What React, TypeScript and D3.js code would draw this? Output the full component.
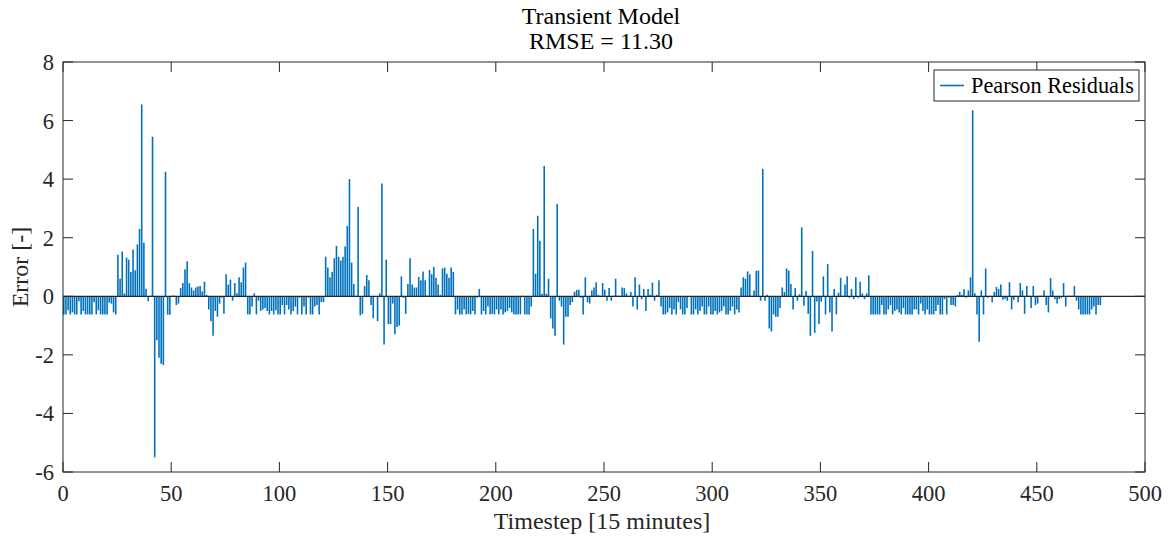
import React from 'react';
import * as d3 from 'd3';

// Pearson residuals, timestep 0..479
const residA = [
  -0.62, -0.62, -0.48, -0.62, -0.55, -0.62, -0.62, -0.17, -0.62, -0.5,
  -0.62, -0.62, -0.62, -0.62, -0.2, -0.62, -0.48, -0.62, -0.62, -0.62,
  -0.62, -0.22, -0.25, -0.55, -0.62,
  1.42, 0.6, 1.53, 0.1, 1.32, 1.25, 0.83, 1.6, 0.89, 1.77, 2.3, 6.55, 1.83, 0.26, -0.17,
  0.02, 5.45, -5.5, -1.5, -2.1, -2.3, -2.35, 4.25,
];
const residB = [
  -0.63, -0.63, 0.02, 0.03, -0.3, -0.25, 0.28, 0.45, 0.92, 1.2,
  0.45, 0.3, 0.2, 0.3, 0.33, 0.35, 0.17, 0.5, 0.05, -0.45,
  -0.85, -1.35, -0.5, -0.7, -0.25, -0.05, -0.6, 0.75, 0.4, 0.57,
  -0.15, 0.45, 0.1, 0.65, 0.48,
  0.98, 1.15, -0.62, -0.62, -0.35, 0.1, -0.62, -0.15, -0.5, -0.45,
  -0.4, -0.5, -0.62, -0.5, -0.62, -0.48, -0.62, -0.62, -0.3, -0.62,
  -0.3, -0.45, -0.62, -0.5, -0.35, -0.62, -0.05, -0.62, -0.35, -0.62,
  -0.05, -0.62, -0.62, -0.35, -0.3, -0.62, -0.2, -0.2, 1.35, 0.98, 0.65,
];
const residC = [
  0.83, 1.3, 1.72, 1.35, 1.22, 1.35, 1.7, 2.4, 4.0, 1.15,
  0.42, 0.02, 3.05, -0.65, -0.6, 0.35, 0.73, 0.55, -0.3, -0.75,
  -0.02, -0.85, 0.1, 3.85, -1.65, 1.25, -0.95, -0.95, -0.25, -1.3,
  -1.05, -1.0, 0.68, -0.05, -0.6, 0.42, 1.3, 0.4, 0.3, 0.3, 0.66, 0.55,
  0.85, 0.55, 0.03, 0.9, 0.75, 1.0, 0.63, 0.4, 0.05, 0.95,
  0.98, 0.77, 0.63, 0.98, 0.83, -0.62, -0.45, -0.62, -0.62, -0.45,
  -0.62, -0.6, -0.62, -0.5, -0.62, -0.05, 0.25, -0.62, -0.5, -0.62,
  -0.35, -0.62, -0.6, -0.62, -0.45, -0.62, -0.45, -0.62, -0.55, -0.5, -0.4,
];
const residD = [
  -0.55, -0.62, -0.62, -0.62, -0.62, 0.02, -0.62, -0.62, -0.62, -0.35,
  2.3, 0.77, 2.75, 1.9, 0.09, 4.45, 0.09, 0.6, -0.76, -1.1,
  -1.35, 3.15, -0.15, -0.35, -1.65, -0.7, -0.7, -0.3, -0.2, 0.15,
  0.22, 0.22, -0.05, -0.62, 0.65, -0.2, -0.25, 0.2, 0.3, 0.48, 0.05,
  0.02, 0.45, 0.22, -0.15, 0.28, -0.15, 0.02, 0.6, 0.02, 0.02,
  0.3, 0.28, 0.1, 0.02, 0.15, -0.35, 0.65, -0.45, 0.4, -0.1,
  0.25, -0.5, 0.25, 0.05, 0.47, -0.15, 0.05, 0.55, -0.35, -0.62,
  -0.62, -0.55, -0.4, -0.62, -0.45, -0.62, -0.2, -0.45, -0.62, -0.62, -0.4, 0.0,
];
const residE = [
  -0.62, -0.62, -0.45, -0.62, -0.5, -0.35, -0.62, -0.62, -0.35, -0.62,
  -0.62, -0.5, -0.62, -0.55, -0.5, -0.35, -0.62, -0.62, -0.5, -0.35,
  -0.62, -0.45, -0.55, 0.3, 0.65, 0.6, 0.85, 0.75, 0.02, 0.2,
  0.87, 0.88, -0.15, 4.35, -0.15, 0.05, -1.1, -1.2, -0.62, -0.7, -0.7, -0.4, 0.3,
  0.15, 0.95, 0.88, 0.42, -0.45, 0.28, -0.15, 0.07, 2.35, -0.32,
  0.18, -0.6, -1.35, 1.55, -1.25, -0.18, -0.95, -0.18, 0.68, -0.62,
  1.1, -0.55, -1.2, 0.25, -0.62, 0.12, 0.63, 0.02, 0.4, 0.68,
  -0.05, 0.25, -0.1, 0.65, -0.05, 0.5, 0.1, -0.1, 0.1, 0.72, -0.62,
];
const residF = [
  -0.62, -0.62, -0.62, -0.62, -0.3, -0.62, -0.62, -0.45, -0.3, -0.62,
  -0.5, -0.45, -0.55, -0.62, -0.4, -0.62, -0.62, -0.62, -0.62, -0.45,
  -0.45, -0.62, -0.25, -0.5, -0.62, -0.45, -0.62, -0.62, -0.62, -0.5,
  -0.3, -0.62, -0.62, -0.1, -0.62, -0.05, -0.3, -0.3, -0.35,
  0.05, 0.15, 0.05, 0.25, -0.05, 0.2, 0.65, 6.35, 0.1, -0.62,
  -1.55, 0.2, -0.62, 0.95, -0.05, 0.02, -0.2, 0.15, 0.32, 0.25,
  0.4, -0.12, -0.08, -0.15, 0.48, -0.45, -0.12, 0.02, -0.2, 0.45,
  0.2, -0.6, 0.35, 0.02, -0.4, 0.35, -0.3, -0.25, 0.02, 0.02,
  0.2, -0.3, -0.55, 0.62, 0.2,
  -0.1, -0.25, -0.1, -0.05, 0.45, -0.35, 0.02, 0.02, 0.02, 0.35,
  -0.15, -0.45, -0.62, -0.62, -0.62, -0.62, -0.62, -0.45, -0.35, -0.62, -0.3, -0.3,
];
const residuals = [...residA, ...residB, ...residC, ...residD, ...residE, ...residF];

const xTicks = [0, 50, 100, 150, 200, 250, 300, 350, 400, 450, 500];
const yTicks = [-6, -4, -2, 0, 2, 4, 6, 8];
const titleLines = ['Transient Model', 'RMSE = 11.30'];
const xLabel = 'Timestep [15 minutes]';
const yLabel = 'Error [-]';
const legendLabel = 'Pearson Residuals';

const FONT = '"Liberation Serif", "Times New Roman", serif';
const AX = '#262626';
const BLUE = '#0072BD';

export default function App() {
  const W = 1174;
  const H = 542;
  const L = 63, R = 1145, T = 62, B = 472;
  const x = d3.scaleLinear().domain([0, 500]).range([L, R]);
  const y = d3.scaleLinear().domain([-6, 8]).range([B, T]);
  const tick = 10;
  const fs = 22.5;
  const fsLab = 24;

  return (
    <svg width={W} height={H} style={{ position: 'absolute', left: 0, top: 0, background: '#fff' }}
      fontFamily={FONT}>
      <rect x={0} y={0} width={W} height={H} fill="#fff" />
      {/* stems */}
      <g stroke={BLUE} strokeWidth={1.6}>
        {residuals.map((v, i) => (
          <line key={i} x1={x(i) + 0.8} x2={x(i) + 0.8} y1={y(0)} y2={y(v)} />
        ))}
      </g>
      {/* baseline */}
      <line x1={L} x2={R} y1={y(0)} y2={y(0)} stroke="#262626" strokeWidth={1.3} />
      {/* axes box */}
      <rect x={L} y={T} width={R - L} height={B - T} fill="none" stroke={AX} strokeWidth={1} />
      {/* x ticks */}
      {xTicks.map((t) => (
        <g key={'x' + t}>
          <line x1={x(t)} x2={x(t)} y1={B} y2={B - tick} stroke={AX} />
          <line x1={x(t)} x2={x(t)} y1={T} y2={T + tick} stroke={AX} />
          <text x={x(t)} y={B + 29} textAnchor="middle" fontSize={fs} fill={AX}>{t}</text>
        </g>
      ))}
      {/* y ticks */}
      {yTicks.map((t) => (
        <g key={'y' + t}>
          <line x1={L} x2={L + tick} y1={y(t)} y2={y(t)} stroke={AX} />
          <line x1={R} x2={R - tick} y1={y(t)} y2={y(t)} stroke={AX} />
          <text x={L - 9} y={y(t) + 8} textAnchor="end" fontSize={fs} fill={AX}>{t}</text>
        </g>
      ))}
      {/* labels */}
      <text x={(L + R) / 2 - 2} y={529} textAnchor="middle" fontSize={fsLab} fill={AX}>{xLabel}</text>
      <text transform={`translate(28,${(T + B) / 2}) rotate(-90)`} textAnchor="middle" fontSize={fsLab} fill={AX}>{yLabel}</text>
      {titleLines.map((s, i) => (
        <text key={s} x={(L + R) / 2 - 3} y={24 + i * 25} textAnchor="middle" fontSize={fsLab} fill="#000">{s}</text>
      ))}
      {/* legend */}
      <g>
        <rect x={934} y={70} width={205} height={31} fill="#fff" stroke={AX} strokeWidth={1} />
        <line x1={940} x2={964} y1={85.5} y2={85.5} stroke={BLUE} strokeWidth={1.6} />
        <text x={971} y={93} fontSize={22.3} fill="#000">{legendLabel}</text>
      </g>
    </svg>
  );
}
